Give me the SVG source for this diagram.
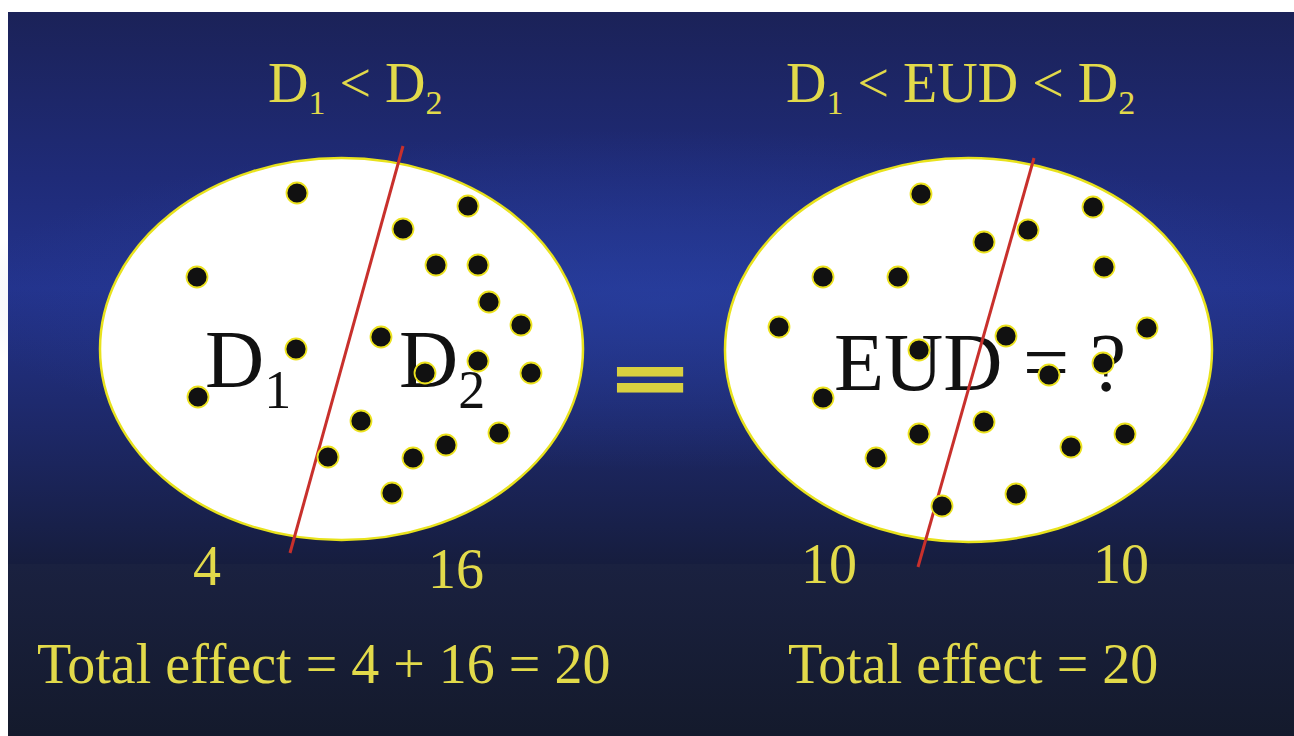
<svg xmlns="http://www.w3.org/2000/svg" width="1294" height="736" viewBox="0 0 1294 736">
<defs>
<linearGradient id="bg" x1="0" y1="0" x2="0" y2="1">
<stop offset="0" stop-color="#1b2258"/>
<stop offset="0.3" stop-color="#1f2b78"/>
<stop offset="0.5" stop-color="#23338c"/>
<stop offset="0.75" stop-color="#1d2868"/>
<stop offset="1" stop-color="#161d3e"/>
</linearGradient>
<radialGradient id="glow" cx="0.5" cy="0.5" r="0.5">
<stop offset="0" stop-color="#2a44a8" stop-opacity="0.55"/>
<stop offset="1" stop-color="#2a44a8" stop-opacity="0"/>
</radialGradient>
<linearGradient id="bot" x1="0" y1="0" x2="0" y2="1">
<stop offset="0" stop-color="#1a2140"/>
<stop offset="1" stop-color="#141a2c"/>
</linearGradient>
</defs>
<style>
.y{fill:#e2da4a;font-family:"Liberation Serif","Times New Roman",serif;font-size:56px}
.k{fill:#111111;font-family:"Liberation Serif","Times New Roman",serif;font-size:82px}
.ell{fill:#ffffff;stroke:#e8e21c;stroke-width:2.5}
.dot{fill:#111111;stroke:#ece21e;stroke-width:1.8}
.cut{stroke:#c8302c;stroke-width:3;fill:none}
</style>
<rect x="0" y="0" width="1294" height="736" fill="#ffffff"/>
<rect x="8" y="12" width="1286" height="552" fill="url(#bg)"/>
<ellipse cx="660" cy="300" rx="700" ry="170" fill="url(#glow)"/>
<rect x="8" y="564" width="1286" height="172" fill="url(#bot)"/>
<g id="title-left"><text class="y" x="268" y="102">D<tspan font-size="34" dy="12">1</tspan><tspan dy="-12"> &lt; D</tspan><tspan font-size="34" dy="12">2</tspan></text></g>
<g id="title-right"><text class="y" x="786" y="102">D<tspan font-size="34" dy="12">1</tspan><tspan dy="-12"> &lt; EUD &lt; D</tspan><tspan font-size="34" dy="12">2</tspan></text></g>
<g id="ellipse-left">
<ellipse class="ell" cx="341.5" cy="349" rx="241.5" ry="191"/>
<text class="k" x="205" y="387">D<tspan font-size="54" dy="21">1</tspan></text>
<text class="k" x="399" y="387">D<tspan font-size="54" dy="21">2</tspan></text>
</g>
<g id="ellipse-right">
<ellipse class="ell" cx="968.5" cy="350" rx="243.5" ry="192"/>
<text class="k" x="834" y="390">EUD = ?</text>
</g>
<g id="connectors">
<line class="cut" x1="403" y1="146" x2="290" y2="553"/>
<line class="cut" x1="1034" y1="158" x2="918" y2="567"/>
</g>
<g id="dots-left">
<circle class="dot" cx="297" cy="193" r="10.5"/>
<circle class="dot" cx="197" cy="277" r="10.5"/>
<circle class="dot" cx="296" cy="349" r="10.5"/>
<circle class="dot" cx="198" cy="397" r="10.5"/>
<circle class="dot" cx="403" cy="229" r="10.5"/>
<circle class="dot" cx="468" cy="206" r="10.5"/>
<circle class="dot" cx="436" cy="265" r="10.5"/>
<circle class="dot" cx="478" cy="265" r="10.5"/>
<circle class="dot" cx="489" cy="302" r="10.5"/>
<circle class="dot" cx="521" cy="325" r="10.5"/>
<circle class="dot" cx="381" cy="337" r="10.5"/>
<circle class="dot" cx="478" cy="361" r="10.5"/>
<circle class="dot" cx="531" cy="373" r="10.5"/>
<circle class="dot" cx="425" cy="373" r="10.5"/>
<circle class="dot" cx="361" cy="421" r="10.5"/>
<circle class="dot" cx="328" cy="457" r="10.5"/>
<circle class="dot" cx="413" cy="458" r="10.5"/>
<circle class="dot" cx="446" cy="445" r="10.5"/>
<circle class="dot" cx="499" cy="433" r="10.5"/>
<circle class="dot" cx="392" cy="493" r="10.5"/>
</g>
<g id="dots-right">
<circle class="dot" cx="921" cy="194" r="10.5"/>
<circle class="dot" cx="823" cy="277" r="10.5"/>
<circle class="dot" cx="898" cy="277" r="10.5"/>
<circle class="dot" cx="779" cy="327" r="10.5"/>
<circle class="dot" cx="1093" cy="207" r="10.5"/>
<circle class="dot" cx="1028" cy="230" r="10.5"/>
<circle class="dot" cx="984" cy="242" r="10.5"/>
<circle class="dot" cx="1104" cy="267" r="10.5"/>
<circle class="dot" cx="1147" cy="328" r="10.5"/>
<circle class="dot" cx="1006" cy="336" r="10.5"/>
<circle class="dot" cx="919" cy="350" r="10.5"/>
<circle class="dot" cx="1103" cy="363" r="10.5"/>
<circle class="dot" cx="1049" cy="375" r="10.5"/>
<circle class="dot" cx="823" cy="398" r="10.5"/>
<circle class="dot" cx="919" cy="434" r="10.5"/>
<circle class="dot" cx="984" cy="422" r="10.5"/>
<circle class="dot" cx="1125" cy="434" r="10.5"/>
<circle class="dot" cx="1071" cy="447" r="10.5"/>
<circle class="dot" cx="876" cy="458" r="10.5"/>
<circle class="dot" cx="1016" cy="494" r="10.5"/>
<circle class="dot" cx="942" cy="506" r="10.5"/>
</g>
<g id="equals"><text transform="translate(650,379) scale(1,0.5) translate(0,40)" x="0" y="0" text-anchor="middle" font-family="'Liberation Sans',Arial,sans-serif" font-weight="bold" font-size="120" fill="#d8d040" stroke="#d8d040" stroke-width="6">=</text></g>
<g id="counts">
<text class="y" x="207" y="585" text-anchor="middle">4</text>
<text class="y" x="456" y="588" text-anchor="middle">16</text>
<text class="y" x="829" y="583" text-anchor="middle">10</text>
<text class="y" x="1121" y="583" text-anchor="middle">10</text>
</g>
<g id="totals">
<text class="y" x="37" y="683">Total effect = 4 + 16 = 20</text>
<text class="y" x="788" y="683">Total effect = 20</text>
</g>
</svg>
